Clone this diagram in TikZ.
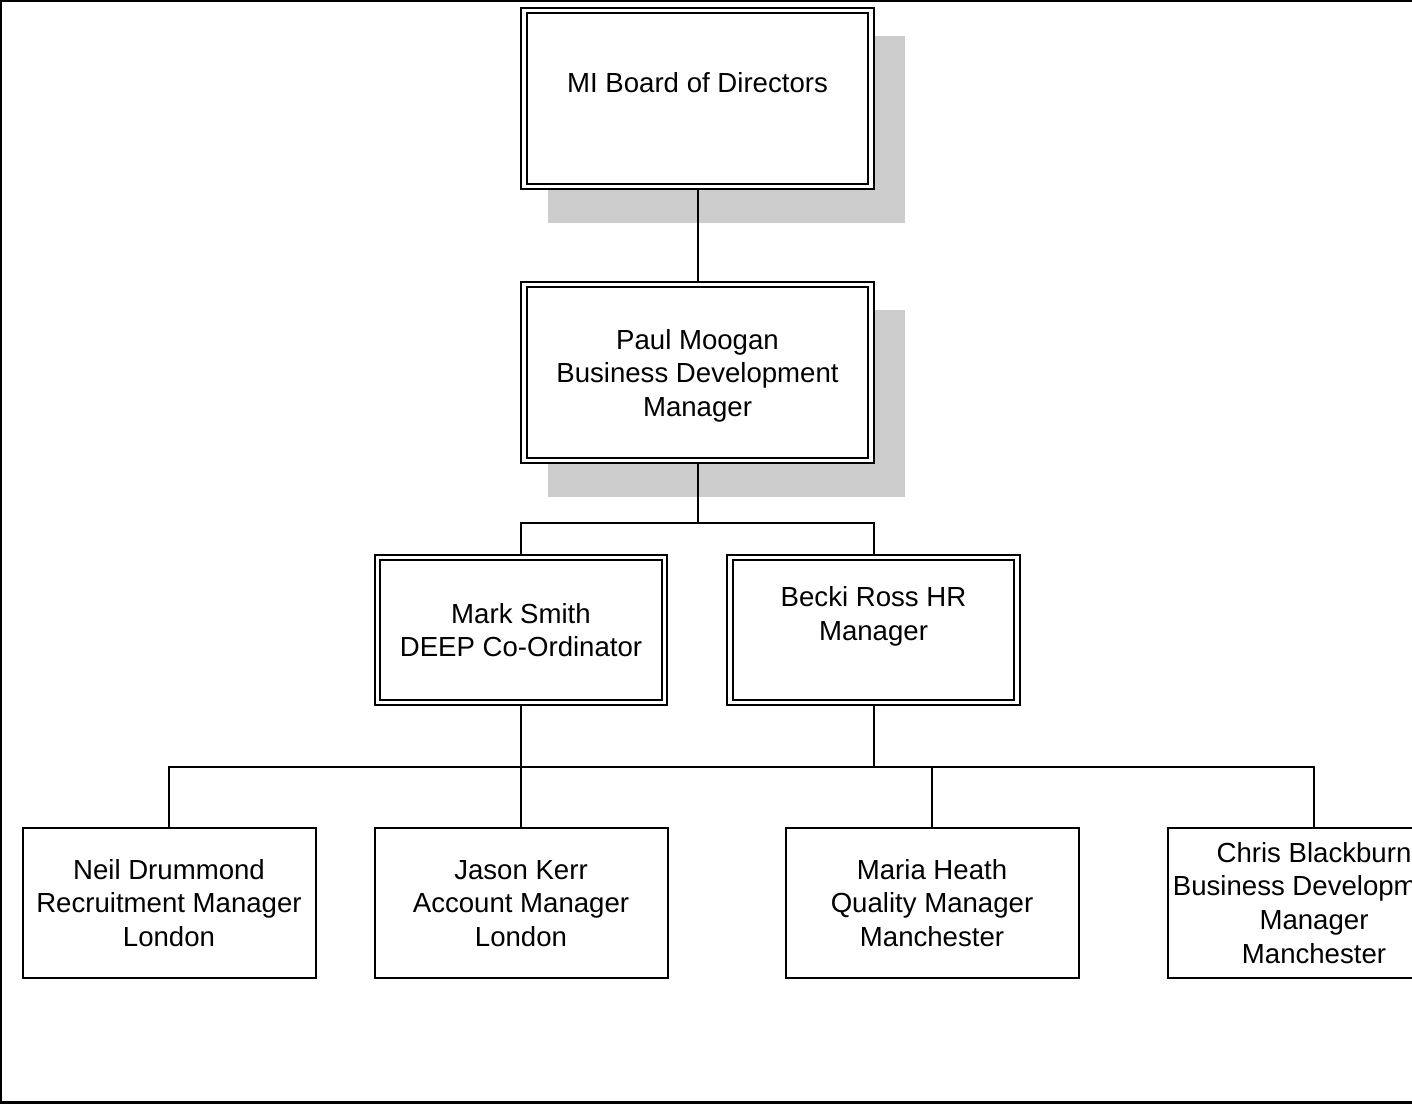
\documentclass[tikz,border=0pt]{standalone}
\usepackage{fontspec}
\setmainfont{Liberation Sans}
\usetikzlibrary{backgrounds,calc}
\definecolor{shadowgray}{RGB}{204,204,204}
\newcommand\ls{\rule[-5pt]{0pt}{25.2pt}}
\begin{document}
\begin{tikzpicture}[x=0.75pt,y=-0.75pt,
  box/.style={draw=black, line width=1.5pt, fill=white, inner sep=0pt, align=center,
    font=\fontsize{20.7}{25.2}\selectfont},
  dbox/.style={box, double=white, double distance=2.5pt},
  bigbox/.style={dbox, minimum width={347*0.75pt}, minimum height={176*0.75pt}},
  midbox/.style={dbox, minimum width={287*0.75pt}, minimum height={145*0.75pt}},
  leafbox/.style={box, minimum width={293*0.75pt}, minimum height={150*0.75pt}},
  conn/.style={line width=1.5pt},
  frameline/.style={line width=1.9pt},
  shadowbox/.style={fill=shadowgray}
]
\useasboundingbox (0,0) rectangle (1412,1104);
\clip (0,0) rectangle (1412,1104);

\node[bigbox] (board) at (697.5,98.7) {\ls MI Board of Directors\\\ls};
\node[bigbox] (paul) at (697.5,372.5) {\ls Paul Moogan\\\ls Business Development\\\ls Manager};
\node[midbox] (mark) at (521,630) {\ls Mark Smith\\\ls DEEP Co-Ordinator};
\node[midbox] (becki) at (873.5,630) {\ls Becki Ross HR\\\ls Manager\\\ls};
\node[leafbox] (neil) at (169,902.5) {\ls Neil Drummond\\\ls Recruitment Manager\\\ls London};
\node[leafbox] (jason) at (521,902.5) {\ls Jason Kerr\\\ls Account Manager\\\ls London};
\node[leafbox] (maria) at (932,902.5) {\ls Maria Heath\\\ls Quality Manager\\\ls Manchester};
\node[leafbox] (chris) at (1314,902.5) {\ls Chris Blackburn\\\ls Business Development\\\ls Manager\\\ls Manchester};

\begin{scope}[on background layer]
  \path[shadowbox] ($(board.north west)+(25,26)$) rectangle ($(board.south east)+(33,35)$);
  \path[shadowbox] ($(paul.north west)+(25,26)$) rectangle ($(paul.south east)+(33,35)$);
  \coordinate (busA) at (0,523);
  \coordinate (busB) at (0,767);
  \draw[conn] (board.south) -- (paul.north);
  \draw[conn] (paul.south) -- (paul.south |- busA) -| (mark.north);
  \draw[conn] (paul.south |- busA) -| (becki.north);
  \draw[conn] (mark.south) -- (jason.north);
  \draw[conn] (becki.south) -- (becki.south |- busB);
  \draw[conn] (neil.north) |- (busB -| chris.north) -- (chris.north);
  \draw[conn] (maria.north) -- (maria.north |- busB);
\end{scope}

\draw[frameline] (1420,1) -- (1.2,1) -- (1.2,1102.5) -- (1420,1102.5);
\end{tikzpicture}
\end{document}
